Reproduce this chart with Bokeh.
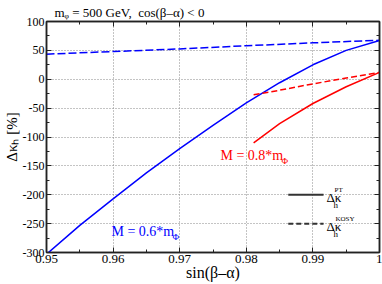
import math
from bokeh.plotting import figure
from bokeh.models import Range1d, FixedTicker, LinearAxis, Label
from bokeh.embed import file_html
from bokeh.resources import INLINE

# ---------------- data ----------------
x_ticks = [0.95, 0.96, 0.97, 0.98, 0.99, 1.0]
x_tick_labels = ["0.95", "0.96", "0.97", "0.98", "0.99", "1"]
x_minor = [0.955, 0.965, 0.975, 0.985, 0.995]
y_ticks = [100, 50, 0, -50, -100, -150, -200, -250, -300]
y_tick_labels = ["100", "50", "0", "-50", "-100", "-150", "-200", "-250", "-300"]
y_minor = [75, 25, -25, -75, -125, -175, -225, -275]

# M = 0.6 m_Phi
sba_06 = [0.95, 0.955, 0.96, 0.965, 0.97, 0.975, 0.98, 0.985, 0.99, 0.995, 1.0]
pt_06 = [-303, -253, -207, -162, -120, -80, -41, -6, 25, 50, 67]
sba_06_k = [0.95, 0.96, 0.97, 0.98, 0.99, 1.0]
kosy_06 = [43.5, 48, 52.5, 58, 63, 67.5]

# M = 0.8 m_Phi
sba_08 = [0.9811, 0.985, 0.99, 0.995, 1.0]
pt_08 = [-110, -77, -42, -13, 12]
kosy_08 = [-27, -19, -8, 2, 12]

# legend sample lines
legend_x = [0.9863, 0.9916]
legend_pt_y = [-200, -200]
legend_kosy_y = [-250, -250]

title_text = "mᵩ = 500 GeV,\u00a0 cos(β–α) < 0"
x_label = "sin(β–α)"
y_label = "Δκₕ [%]"

FONT = "Liberation Serif"

# frame in page px (figure at page origin)
FL, FR, FT, FB = 46, 379, 20, 252
W, H = 382, 284
def dx(px):
    return 0.95 + (px - FL) * 0.05 / (FR - FL)
def dy(py):
    return 100 - (py - FT) * 400.0 / (FB - FT)

p = figure(width=W, height=H, x_range=Range1d(0.95, 1.0), y_range=Range1d(-300, 100),
           output_backend="svg", toolbar_location=None,
           min_border_left=FL, min_border_right=W - FR,
           min_border_top=FT, min_border_bottom=H - FB)
p.background_fill_color = "white"
p.border_fill_color = "white"
p.outline_line_color = "#222222"
p.outline_line_width = 1.5

p.title.text = title_text
p.title.text_font = FONT
p.title.text_font_size = "13px"
p.title.text_font_style = "normal"
p.title.text_color = "black"
p.title.align = "left"
p.title.offset = 8
p.title.standoff = 4

bottom_ax = p.xaxis[0]
left_ax = p.yaxis[0]

def style_axis(ax, ticks, minor, labels, show, size="13px"):
    ax.ticker = FixedTicker(ticks=ticks, minor_ticks=minor)
    if show:
        ax.major_label_overrides = {t: l for t, l in zip(ticks, labels)}
        ax.major_label_text_font = FONT
        ax.major_label_text_font_size = size
        ax.major_label_text_color = "black"
        ax.major_label_standoff = 2
    else:
        ax.major_label_overrides = {t: "" for t in ticks}
        ax.major_label_text_font_size = "0px"
        ax.major_label_standoff = 0
    ax.axis_line_color = "#222222"
    ax.axis_line_width = 1.5
    ax.major_tick_in = 5
    ax.major_tick_out = 0
    ax.minor_tick_in = 3
    ax.minor_tick_out = 0
    ax.major_tick_line_color = "#222222"
    ax.minor_tick_line_color = "#222222"

style_axis(bottom_ax, x_ticks, x_minor, x_tick_labels, True, "13px")
style_axis(left_ax, y_ticks, y_minor, y_tick_labels, True, "12px")
top_ax = LinearAxis()
right_ax = LinearAxis()
style_axis(top_ax, x_ticks, x_minor, x_tick_labels, False)
style_axis(right_ax, y_ticks, y_minor, y_tick_labels, False)
p.add_layout(top_ax, "above")
p.add_layout(right_ax, "right")

for ax, txt, st, fs in ((bottom_ax, x_label, -2, "16px"), (left_ax, y_label, 0, "15px")):
    ax.axis_label = txt
    ax.axis_label_text_font = FONT
    ax.axis_label_text_font_size = fs
    ax.axis_label_text_font_style = "normal"
    ax.axis_label_text_color = "black"
    ax.axis_label_standoff = st

p.xgrid.ticker = FixedTicker(ticks=x_ticks)
p.ygrid.ticker = FixedTicker(ticks=y_ticks)
for g in (p.xgrid[0], p.ygrid[0]):
    g.grid_line_color = "#888888"
    g.grid_line_dash = "1 2"
    g.grid_line_width = 1

# curves
p.line(sba_06, pt_06, line_color="#0000ff", line_width=1.5)
p.line(sba_06_k, kosy_06, line_color="#0000ff", line_width=1.5, line_dash="8 3")
p.line(sba_08, pt_08, line_color="#ff0000", line_width=1.5)
p.line(sba_08, kosy_08, line_color="#ff0000", line_width=1.5, line_dash="6 3")

# legend samples
p.line(legend_x, legend_pt_y, line_color="#333333", line_width=2)
p.line(legend_x, legend_kosy_y, line_color="#333333", line_width=2, line_dash="5 3")

def lab(px, py, text, size, color="black", align="left"):
    p.add_layout(Label(x=dx(px), y=dy(py), text=text, text_font=FONT,
                       text_font_size=f"{size}px", text_color=color,
                       text_align=align, text_baseline="alphabetic"))

# legend labels
lab(326, 197, "Δκ", 13)
lab(333, 204, "h", 9)
lab(334, 189, "PT", 7)
lab(326, 226, "Δκ", 13)
lab(333, 233, "h", 9)
lab(335, 218, "KOSY", 7)

# curve labels
lab(220, 155, "M = 0.8*m", 14, color="#ff0000")
lab(281, 160, "Φ", 9, color="#ff0000")
lab(111, 231, "M = 0.6*m", 14, color="#0000ff")
lab(172, 236, "Φ", 9, color="#0000ff")

open("out.html", "w").write(file_html(p, INLINE))
